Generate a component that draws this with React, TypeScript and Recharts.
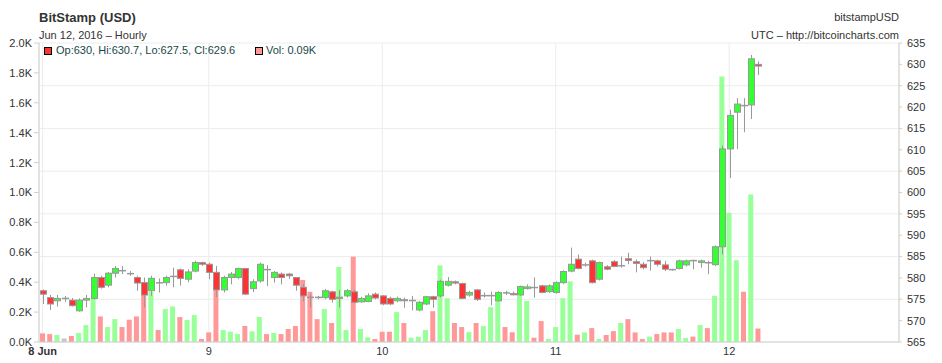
import { ComposedChart, Bar, XAxis, YAxis, CartesianGrid, Cell } from "recharts";

// BitStamp (USD), hourly, Jun 8 01:00 -> Jun 12 04:00 (hours since Jun 8 00:00 = index + 1)
const opens = [
  577.0, 575.4, 574.65, 575.2, 574.8, 572.3, 574.8, 575.2, 580.1, 578.3,
  581.1, 581.7, 581.0, 580.1, 578.9, 577.0, 578.85, 578.9, 580.3, 581.9,
  579.7, 581.6, 583.6, 583.2, 581.3, 577.2, 580.1, 580.1, 582.2, 577.5,
  579.3, 581.95, 580.1, 580.9, 580.9, 580.1, 577.8, 575.45, 575.45, 575.4,
  576.75, 575.2, 575.8, 576.75, 574.4, 574.5, 576.2, 575.8, 575.2, 574.65,
  574.9, 574.65, 572.5, 573.9, 575.6, 575.8, 578.3, 579.1, 578.7, 576.0,
  577.2, 575.8, 575.8, 574.65, 576.5, 576.35, 576.0, 577.5, 577.75, 578.15,
  576.8, 576.6, 578.9, 581.6, 584.4, 583.0, 584.0, 579.7, 582.6, 583.8,
  582.8, 584.5, 583.8, 583.2, 584.0, 584.0, 583.05, 581.95, 582.2, 583.05,
  584.05, 583.6, 583.55, 583.1, 587.3, 610.2, 618.8, 620.35, 620.5, 630.0,
];
const closes = [
  576.2, 573.9, 575.2, 575.2, 573.5, 574.8, 575.2, 580.1, 577.8, 581.1,
  582.2, 581.6, 580.9, 578.8, 576.0, 579.9, 578.8, 580.1, 580.35, 579.9,
  581.4, 583.6, 583.2, 581.3, 577.2, 580.1, 580.9, 582.2, 576.2, 579.1,
  583.2, 581.9, 581.3, 580.1, 580.5, 578.3, 575.8, 575.4, 575.4, 577.0,
  575.0, 575.5, 577.0, 574.3, 575.2, 575.8, 575.3, 573.9, 573.9, 575.2,
  574.65, 574.7, 574.3, 575.6, 575.0, 579.2, 579.2, 578.8, 575.2, 576.6,
  575.0, 575.85, 575.85, 576.6, 576.3, 576.05, 578.0, 577.9, 577.7, 576.6,
  578.15, 578.9, 581.5, 583.2, 582.2, 583.05, 578.9, 583.6, 582.05, 582.7,
  582.85, 584.1, 583.4, 582.4, 584.05, 583.2, 582.05, 581.9, 584.0, 584.0,
  584.0, 584.0, 583.5, 587.3, 610.2, 618.05, 620.7, 620.3, 631.3, 629.6,
];
const highs = [
  577.3, 576.0, 576.0, 575.8, 575.3, 575.2, 576.0, 581.0, 580.5, 581.4,
  582.8, 582.8, 581.6, 580.5, 580.1, 580.5, 579.9, 580.5, 582.4, 582.2,
  582.0, 584.0, 583.8, 583.6, 582.8, 580.5, 581.4, 582.4, 582.2, 579.7,
  583.6, 583.0, 581.6, 581.3, 581.2, 580.1, 578.5, 576.2, 575.8, 577.4,
  577.0, 577.2, 577.4, 577.2, 575.6, 576.4, 576.6, 576.0, 575.6, 575.6,
  575.4, 575.8, 574.6, 575.8, 575.8, 579.6, 580.2, 579.4, 578.9, 577.0,
  577.4, 576.6, 576.8, 576.9, 577.0, 576.8, 578.2, 578.5, 580.1, 578.4,
  578.5, 579.2, 581.8, 587.1, 585.5, 583.6, 584.3, 583.8, 583.0, 584.2,
  585.0, 585.9, 584.3, 583.7, 585.0, 584.3, 584.0, 582.1, 584.3, 584.3,
  584.3, 584.3, 584.0, 587.6, 611.0, 619.4, 622.1, 622.1, 632.2, 630.7,
];
const lows = [
  573.9, 572.5, 573.3, 574.4, 573.3, 572.1, 573.1, 575.0, 577.5, 577.8,
  580.1, 580.9, 580.5, 577.0, 573.1, 575.8, 576.6, 578.2, 577.8, 578.2,
  579.0, 581.3, 582.8, 579.7, 575.5, 576.6, 578.5, 579.7, 576.0, 576.7,
  578.9, 578.1, 578.9, 578.5, 579.8, 577.0, 574.5, 573.1, 575.0, 575.0,
  574.2, 573.1, 575.4, 574.0, 574.2, 574.3, 575.0, 573.6, 573.6, 574.3,
  573.0, 572.4, 572.2, 573.6, 573.0, 575.4, 578.0, 578.5, 575.0, 575.6,
  574.6, 575.4, 573.6, 574.5, 576.0, 575.9, 575.8, 577.3, 575.4, 576.4,
  576.5, 576.3, 578.6, 581.3, 582.0, 582.6, 578.7, 579.4, 581.8, 582.5,
  582.4, 583.2, 581.3, 582.0, 581.7, 582.7, 581.6, 581.7, 582.0, 582.7,
  582.0, 582.4, 580.9, 582.8, 585.5, 603.4, 610.2, 614.1, 617.2, 627.5,
];
// volume in thousands
const volumes = [
  0.058, 0.053, 0.047, 0.024, 0.04, 0.06, 0.113, 0.29, 0.171, 0.1,
  0.153, 0.1, 0.149, 0.171, 0.4, 0.336, 0.08, 0.22, 0.238, 0.167,
  0.147, 0.18, 0.02, 0.064, 0.45, 0.08, 0.069, 0.053, 0.107, 0.071,
  0.167, 0.053, 0.06, 0.053, 0.087, 0.107, 0.415, 0.336, 0.153, 0.22,
  0.127, 0.502, 0.08, 0.571, 0.087, 0.031, 0.02, 0.069, 0.069, 0.2,
  0.127, 0.029, 0.035, 0.08, 0.206, 0.513, 0.293, 0.127, 0.1, 0.066,
  0.127, 0.106, 0.233, 0.3, 0.1, 0.066, 0.31, 0.275, 0.029, 0.14,
  0.02, 0.1, 0.293, 0.406, 0.049, 0.064, 0.093, 0.02, 0.047, 0.073,
  0.127, 0.153, 0.064, 0.02, 0.036, 0.053, 0.064, 0.064, 0.087, 0.027,
  0.036, 0.113, 0.093, 0.309, 1.776, 0.864, 0.547, 0.336, 0.987, 0.09,
];

const dayTicks = [1, 24, 48, 72, 96];
const dayLabels = ["8 Jun", "9", "10", "11", "12"];
const volTicks = [0, 0.2, 0.4, 0.6, 0.8, 1.0, 1.2, 1.4, 1.6, 1.8, 2.0];
const priceTicks = [565, 570, 575, 580, 585, 590, 595, 600, 605, 610, 615, 620, 625, 630, 635];

const data = opens.map((o, i) => ({
  hour: i + 1,
  open: o,
  close: closes[i],
  high: highs[i],
  low: lows[i],
  vol: volumes[i],
}));

const UP = "#33ff33";
const DOWN = "#ff3333";
const EDGE = "#999999";
const VOL_UP = "#99ff99";
const VOL_DOWN = "#ff9999";
const FONT = "'Liberation Sans', Arial, sans-serif";
const tickStyle = { fill: "#333", fontSize: 11, fontFamily: FONT };

function Candle(props: any) {
  const { x, y, width, height, payload } = props;
  const { open, close, high, low } = payload;
  const k = height / (high - low || 1);
  const cx = Math.round(x + width / 2) + 0.5;
  const top = y + (high - Math.max(open, close)) * k;
  const bot = y + (high - Math.min(open, close)) * k;
  const flat = bot - top < 1;
  return (
    <g>
      <line x1={cx} x2={cx} y1={y} y2={y + height} stroke={EDGE} strokeWidth={1} />
      {flat ? (
        <line x1={cx - 3.5} x2={cx + 3.5} y1={top} y2={top} stroke={EDGE} strokeWidth={1.5} />
      ) : (
        <rect x={cx - 3} y={top} width={6} height={bot - top} fill={close > open ? UP : DOWN} stroke={EDGE} strokeWidth={1} />
      )}
    </g>
  );
}

function DayTick(props: any) {
  const { x, y, index } = props;
  return (
    <text x={x} y={y} dy={13} textAnchor="middle" {...tickStyle} fontWeight={index === 0 ? "bold" : "normal"}>
      {dayLabels[index]}
    </text>
  );
}

export default function App() {
  const last = data[data.length - 1];
  return (
    <div style={{ position: "absolute", left: 0, top: 0, width: 942, height: 363, background: "#fff", fontFamily: FONT, color: "#333" }}>
      <div style={{ position: "absolute", left: 39, top: 10, fontSize: 13, fontWeight: "bold" }}>BitStamp (USD)</div>
      <div style={{ position: "absolute", left: 39, top: 29, fontSize: 11 }}>Jun 12, 2016 – Hourly</div>
      <div style={{ position: "absolute", right: 43, top: 11, fontSize: 11 }}>bitstampUSD</div>
      <div style={{ position: "absolute", right: 43, top: 29, fontSize: 11 }}>UTC – http://bitcoincharts.com</div>

      <ComposedChart width={942} height={363} data={data} margin={{ top: 43, right: 0, bottom: 0, left: 0 }}>
        <CartesianGrid xAxisId="a" yAxisId="price" stroke="#ececec" />
        <XAxis
          xAxisId="a"
          dataKey="hour"
          type="number"
          domain={[0.5, 119.5]}
          ticks={dayTicks}
          interval={0}
          height={21}
          tickLine={false}
          tickSize={0}
          tickMargin={0}
          axisLine={{ stroke: "#d0d0d0" }}
          tick={<DayTick />}
        />
        <XAxis xAxisId="b" dataKey="hour" type="number" domain={[0.5, 119.5]} hide />
        <YAxis
          yAxisId="vol"
          orientation="left"
          width={39}
          domain={[0, 2]}
          ticks={volTicks}
          tickFormatter={(v: number) => v.toFixed(1) + "K"}
          tick={tickStyle}
          tickSize={5}
          tickMargin={2}
          axisLine={{ stroke: "#d0d0d0" }}
          tickLine={{ stroke: "#d0d0d0" }}
        />
        <YAxis
          yAxisId="price"
          orientation="right"
          width={43}
          domain={[565, 635]}
          ticks={priceTicks}
          tick={tickStyle}
          tickSize={3}
          tickMargin={5}
          axisLine={{ stroke: "#d0d0d0" }}
          tickLine={{ stroke: "#d0d0d0" }}
        />
        <Bar xAxisId="b" yAxisId="vol" dataKey="vol" barSize={5} isAnimationActive={false}>
          {data.map((d, i) => (
            <Cell key={i} fill={d.close > d.open ? VOL_UP : d.close < d.open ? VOL_DOWN : "#c8c8c8"} />
          ))}
        </Bar>
        <Bar
          xAxisId="a"
          yAxisId="price"
          dataKey={(d: any) => [d.low, d.high]}
          barSize={6}
          shape={<Candle />}
          isAnimationActive={false}
        />
      </ComposedChart>

      <div style={{ position: "absolute", left: 44, top: 47, width: 6, height: 6, background: DOWN, border: "1px solid #000" }} />
      <div style={{ position: "absolute", left: 56, top: 44, fontSize: 11, color: "#174848" }}>
        {`Op:${last.open}, Hi:${last.high}, Lo:${last.low}, Cl:${last.close}`}
      </div>
      <div style={{ position: "absolute", left: 255, top: 47, width: 6, height: 6, background: VOL_DOWN, border: "1px solid #000" }} />
      <div style={{ position: "absolute", left: 266, top: 44, fontSize: 11, color: "#174848" }}>
        {`Vol: ${last.vol.toFixed(2)}K`}
      </div>
    </div>
  );
}
